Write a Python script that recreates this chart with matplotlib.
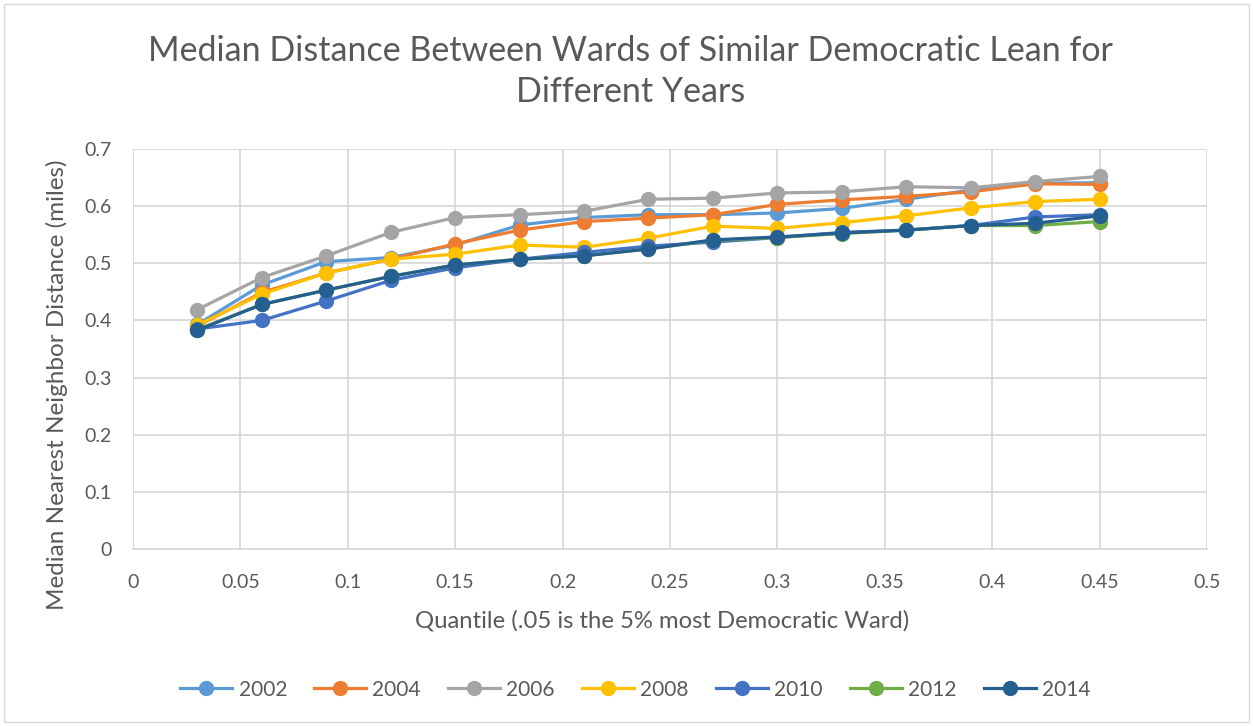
import matplotlib
matplotlib.use("Agg")
import matplotlib.pyplot as plt
from matplotlib.patches import Rectangle

plt.rcParams['font.family'] = ['Lato', 'DejaVu Sans']

# quantiles on the x axis
quantile = [0.03, 0.06, 0.09, 0.12, 0.15, 0.18, 0.21, 0.24, 0.27, 0.30, 0.33, 0.36, 0.39, 0.42, 0.45]

# median nearest-neighbour distance per year
y2002 = [0.393, 0.462, 0.503, 0.510, 0.532, 0.567, 0.580, 0.585, 0.585, 0.588, 0.596, 0.612, 0.628, 0.640, 0.641]
y2004 = [0.390, 0.449, 0.483, 0.507, 0.534, 0.558, 0.573, 0.579, 0.585, 0.603, 0.611, 0.617, 0.625, 0.639, 0.638]
y2006 = [0.419, 0.475, 0.513, 0.554, 0.580, 0.585, 0.591, 0.612, 0.614, 0.623, 0.625, 0.634, 0.632, 0.643, 0.652]
y2008 = [0.392, 0.446, 0.483, 0.507, 0.516, 0.532, 0.528, 0.544, 0.565, 0.561, 0.571, 0.583, 0.597, 0.608, 0.612]
y2010 = [0.385, 0.400, 0.434, 0.470, 0.492, 0.507, 0.519, 0.530, 0.537, 0.545, 0.554, 0.558, 0.566, 0.581, 0.585]
y2012 = [0.384, 0.428, 0.453, 0.477, 0.497, 0.507, 0.513, 0.525, 0.540, 0.545, 0.552, 0.558, 0.566, 0.566, 0.573]
y2014 = [0.383, 0.428, 0.453, 0.477, 0.497, 0.507, 0.513, 0.525, 0.541, 0.546, 0.553, 0.558, 0.566, 0.570, 0.583]

years = ['2002', '2004', '2006', '2008', '2010', '2012', '2014']
series = [y2002, y2004, y2006, y2008, y2010, y2012, y2014]
colors = ['#5B9BD5', '#ED7D31', '#A5A5A5', '#FFC000', '#4472C4', '#70AD47', '#255E91']

fig = plt.figure(figsize=(12.53, 7.26), dpi=100)
ax = fig.add_axes([0.1061, 0.2438, 0.8572, 0.551])

for name, vals, col in zip(years, series, colors):
    ax.plot(quantile, vals, color=col, lw=2.3, marker='o', markersize=10,
            markeredgecolor=col, label=name)

ax.set_xlim(0, 0.5)
ax.set_ylim(0, 0.7)
ax.set_xticks([0, 0.05, 0.1, 0.15, 0.2, 0.25, 0.3, 0.35, 0.4, 0.45, 0.5])
ax.set_xticklabels(['0', '0.05', '0.1', '0.15', '0.2', '0.25', '0.3', '0.35', '0.4', '0.45', '0.5'])
ax.set_yticks([0, 0.1, 0.2, 0.3, 0.4, 0.5, 0.6, 0.7])
ax.set_yticklabels(['0', '0.1', '0.2', '0.3', '0.4', '0.5', '0.6', '0.7'])
ax.grid(True, color='#D9D9D9', lw=1.3)
ax.set_axisbelow(True)
for s in ['top', 'right', 'left']:
    ax.spines[s].set_visible(False)
ax.spines['bottom'].set_color('#D9D9D9')
ax.spines['bottom'].set_linewidth(1.3)
ax.tick_params(length=0, labelsize=14, labelcolor='#595959')
ax.tick_params(axis='x', pad=18)
ax.tick_params(axis='y', pad=15)

ax.set_xlabel('Quantile (.05 is the 5% most Democratic Ward)', fontsize=17.2, color='#595959',
              va='center', ha='center')
ax.xaxis.set_label_coords(0.4926, -0.178)
ax.set_ylabel('Median Nearest Neighbor Distance (miles)', fontsize=17.5, color='#595959',
              va='center', ha='center')
ax.yaxis.set_label_coords(-0.071, 0.41)

fig.text(0.503, 0.9015, 'Median Distance Between Wards of Similar Democratic Lean for\nDifferent Years',
         ha='center', va='center', fontsize=24.5, color='#595959', linespacing=1.38)

ax.legend(loc='center', bbox_to_anchor=(0.507, 0.05), bbox_transform=fig.transFigure,
          ncol=7, frameon=False, fontsize=15, labelcolor='#595959',
          handlelength=2.5, columnspacing=1.3, handletextpad=0.3)

fig.patches.append(Rectangle((0.003, 0.005), 0.994, 0.99, transform=fig.transFigure,
                             fill=False, edgecolor='#D9D9D9', lw=1))

fig.savefig('out.png', dpi=100)
